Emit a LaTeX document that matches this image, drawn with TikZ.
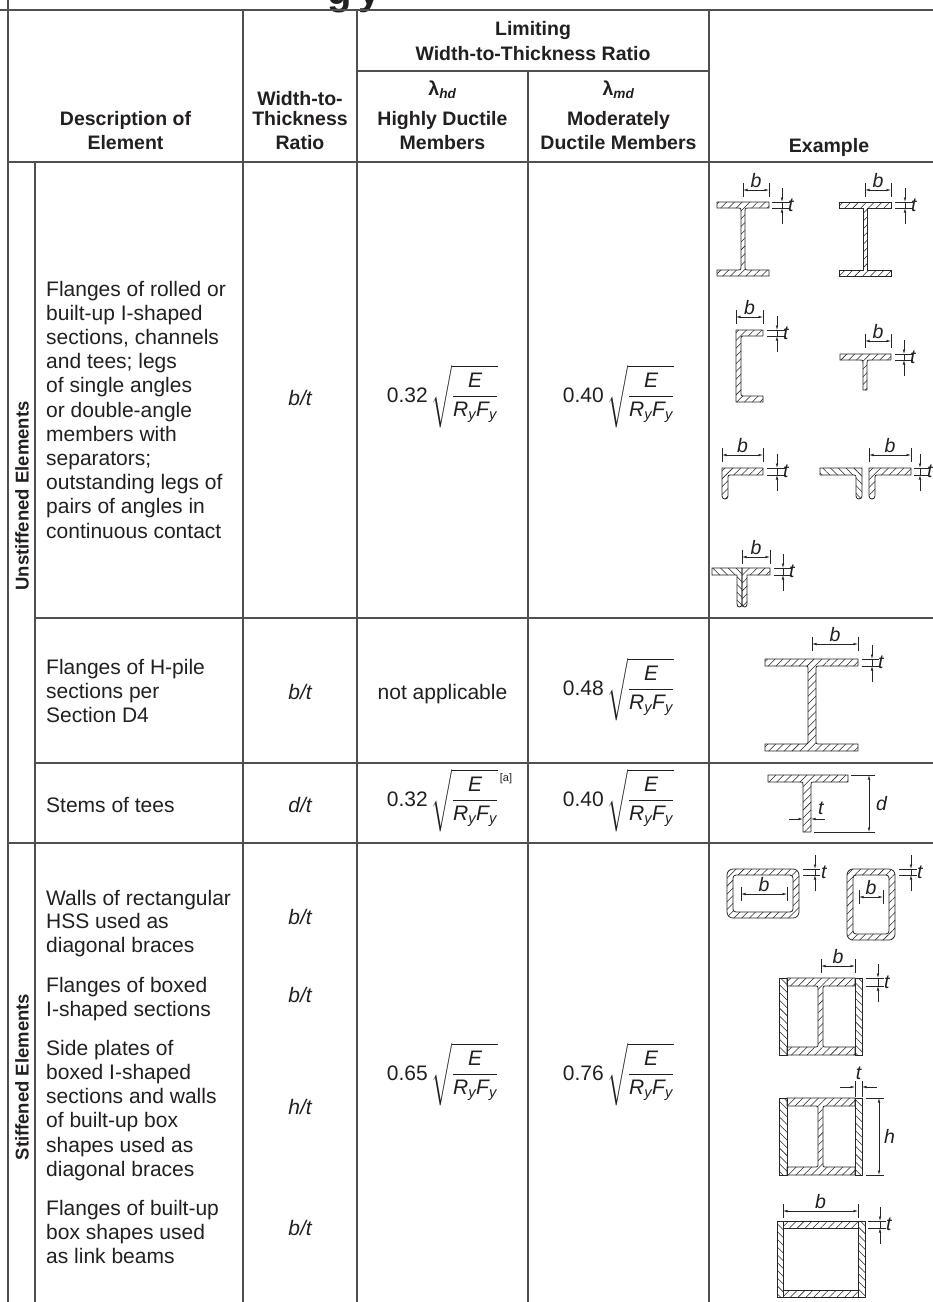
\documentclass[tikz,border=0pt]{standalone}
\usepackage{fix-cm}
\usepackage{amsmath}
\usepackage{fontspec}
\setmainfont{Liberation Sans}
\usetikzlibrary{arrows.meta,patterns.meta}
\definecolor{ink}{HTML}{231F20}
\definecolor{rulec}{HTML}{505050}
\definecolor{shapec}{HTML}{262626}
\tikzset{
  grid/.style={draw=rulec, line width=2pt},
  hdr/.style={font=\bfseries\fontsize{19.5}{23}\selectfont, text=ink, inner sep=0, anchor=base},
  body/.style={font=\fontsize{21}{23.5}\selectfont, text=ink, inner sep=0, anchor=base west},
  ratio/.style={font=\itshape\fontsize{21}{23.5}\selectfont, text=ink, inner sep=0, anchor=base},
  frm/.style={font=\fontsize{21}{23.5}\selectfont, text=ink, inner sep=0, anchor=base},
  grp/.style={font=\bfseries\fontsize{18.5}{22}\selectfont, text=ink, rotate=90, inner sep=0},
  sec/.style={draw=shapec, line width=0.8pt, pattern={Lines[angle=45,distance=5.5pt,line width=0.55pt]}, pattern color=shapec},
  secb/.style={draw=shapec, line width=0.8pt, pattern={Lines[angle=-45,distance=5.5pt,line width=0.55pt]}, pattern color=shapec},
  dimline/.style={draw=shapec, line width=0.6pt},
  dimarr/.style={dimline, {Latex[length=4.5pt,width=2.6pt]}-{Latex[length=4.5pt,width=2.6pt]}},
  onearr/.style={dimline, -{Latex[length=4.5pt,width=2.6pt]}},
  lab/.style={font=\itshape\fontsize{19.5}{19.5}\selectfont, text=ink, inner sep=0},
}
% horizontal dimension with extension lines: name, x1, x2, y, label
\newcommand\bDim[5]{%
  \draw[dimline] (#2,#4-7) -- (#2,#4+7);
  \draw[dimline] (#3,#4-7) -- (#3,#4+7);
  \draw[dimarr] (#2,#4) -- (#3,#4);
  \node[lab,anchor=base] (#1) at ({(#2+#3)/2},#4-3) {#5};
}
% thickness dimension: name, x, ytop, ybot, tick x1, tick x2
\newcommand\tDim[6]{%
  \draw[dimline] (#5,#3) -- (#6,#3);
  \draw[dimline] (#5,#4) -- (#6,#4);
  \draw[onearr] (#2,#3-14) -- (#2,#3);
  \draw[onearr] (#2,#4+16) -- (#2,#4);
  \draw[dimline] (#2,#3) -- (#2,#4);
  \node[lab,anchor=west] (#1) at (#2+6,{(#3+#4)/2}) {t};
}
\newcommand\frmE{\sqrt{\dfrac{\textit{E}}{\textit{R}_{\textit{y}}\textit{F}_{\textit{y}}}}}
\begin{document}
\begin{tikzpicture}[x=1pt,y=-1pt]
\useasboundingbox (0,0) rectangle (933,1302);
% title remnant
\node[font=\bfseries\fontsize{40}{40}\selectfont, text=ink, inner sep=0, anchor=base] (ttl) at (354,4) {g\hspace{6pt}y};
% grid
\draw[grid] (0,10) -- (933,10);
\draw[grid] (357,71) -- (709,71);
\draw[grid] (8,162) -- (933,162);
\draw[grid] (35,618) -- (933,618);
\draw[grid] (35,763) -- (933,763);
\draw[grid] (8,843) -- (933,843);
\draw[grid] (8,0) -- (8,1302);
\draw[grid] (35,162) -- (35,1302);
\draw[grid] (243,10) -- (243,1302);
\draw[grid] (357,10) -- (357,1302);
\draw[grid] (528,71) -- (528,1302);
\draw[grid] (709,10) -- (709,1302);
% header
\node[hdr] (hLim) at (533,35) {Limiting};
\node[hdr] (hWTR) at (533,60) {Width-to-Thickness Ratio};
\node[hdr] (hLhd) at (442.5,95) {λ\textsubscript{\itshape hd}};
\node[hdr] (hLmd) at (618.5,95) {λ\textsubscript{\itshape md}};
\node[hdr] (hW1) at (300,105) {Width-to-};
\node[hdr] (hW2) at (300,125) {Thickness};
\node[hdr] (hW3) at (300,149) {Ratio};
\node[hdr] (hD1) at (125.5,125) {Description of};
\node[hdr] (hD2) at (125.5,149) {Element};
\node[hdr] (hH1) at (442.5,125) {Highly Ductile};
\node[hdr] (hH2) at (442.5,149) {Members};
\node[hdr] (hM1) at (618.5,125) {Moderately};
\node[hdr] (hM2) at (618.5,149) {Ductile Members};
\node[hdr] (hEx) at (829,152) {Example};
% group labels
\node[grp] (gU) at (22,496) {Unstiffened Elements};
\node[grp] (gS) at (22,1077) {Stiffened Elements};
% row 1
\foreach \txt [count=\i] in {Flanges of rolled or, built-up I-shaped, {sections, channels}, and tees; legs, of single angles, or double-angle, members with, separators;, outstanding legs of, pairs of angles in, continuous contact}
  \node[body] (dA\i) at (46,{296+(\i-1)*24.2}) {\txt};
\node[ratio] (rA) at (300,405) {b/t};
\node[frm] (hdA) at (442.5,402) {0.32\,$\frmE$};
\node[frm] (mdA) at (618.5,402) {0.40\,$\frmE$};
% row 2
\foreach \txt [count=\i] in {Flanges of H-pile, sections per, Section D4}
  \node[body] (dB\i) at (46,{674+(\i-1)*24}) {\txt};
\node[ratio] (rB) at (300,699) {b/t};
\node[frm] (hdB) at (442.5,699) {not applicable};
\node[frm] (mdB) at (618.5,695) {0.48\,$\frmE$};
% row 3
\node[body] (dC1) at (46,812) {Stems of tees};
\node[ratio] (rC) at (300,812) {d/t};
\node[frm] (hdC) at (442.5,806) {0.32\,$\frmE$};
\node[font=\fontsize{11}{11}\selectfont, text=ink, inner sep=0] (fnA) at (506,779) {[a]};
\node[frm] (mdC) at (618.5,806) {0.40\,$\frmE$};
% row 4
\foreach \txt [count=\i] in {Walls of rectangular, HSS used as, diagonal braces}
  \node[body] (dD\i) at (46,{905+(\i-1)*23.5}) {\txt};
\foreach \txt [count=\i] in {Flanges of boxed, I-shaped sections}
  \node[body] (dE\i) at (46,{992+(\i-1)*24}) {\txt};
\foreach \txt [count=\i] in {Side plates of, boxed I-shaped, sections and walls, of built-up box, shapes used as, diagonal braces}
  \node[body] (dF\i) at (46,{1055+(\i-1)*24.3}) {\txt};
\foreach \txt [count=\i] in {Flanges of built-up, box shapes used, as link beams}
  \node[body] (dG\i) at (46,{1215+(\i-1)*24.2}) {\txt};
\node[ratio] (rD) at (300,924) {b/t};
\node[ratio] (rE) at (300,1002) {b/t};
\node[ratio] (rF) at (300,1114) {h/t};
\node[ratio] (rG) at (300,1235) {b/t};
\node[frm] (hdD) at (442.5,1080) {0.65\,$\frmE$};
\node[frm] (mdD) at (618.5,1080) {0.76\,$\frmE$};

% ===== examples =====
% rolled I
\draw[sec] (717,202) -- (769,202) -- (769,208) -- (748,208) .. controls (745,208) .. (745,211) -- (745,267) .. controls (745,270) .. (748,270) -- (769,270) -- (769,276) -- (717,276) -- (717,270) -- (738,270) .. controls (741,270) .. (741,267) -- (741,211) .. controls (741,208) .. (738,208) -- (717,208) -- cycle;
\bDim{b1}{743}{769}{190}{b}
\tDim{t1}{782}{202}{208}{772}{790}
% welded I
\draw[sec] (839,202) -- (891,202) -- (891,208) -- (867,208) -- (867,270) -- (891,270) -- (891,276) -- (839,276) -- (839,270) -- (863,270) -- (863,208) -- (839,208) -- cycle;
\bDim{b2}{865}{891}{190}{b}
\tDim{t2}{905}{202}{208}{895}{913}
% channel
\draw[sec] (736,330) -- (763,330) -- (763,336) -- (745,336) .. controls (741,336) .. (741,340) -- (741,392) .. controls (741,396) .. (745,396) -- (763,396) -- (763,402) -- (736,402) -- cycle;
\bDim{b3}{736}{763}{317}{b}
\tDim{t3}{777}{330}{336}{767}{786}
% tee
\draw[sec] (840,354) -- (891,354) -- (891,360) -- (870,360) .. controls (867,360) .. (867,363) -- (867,390) -- (863,390) -- (863,363) .. controls (863,360) .. (860,360) -- (840,360) -- cycle;
\bDim{b4}{865}{891}{341}{b}
\tDim{t4}{904}{354}{360}{895}{913}
% single angle
\draw[sec] (722,468) -- (763,468) -- (763,475) -- (732,475) .. controls (728,475) .. (728,479) -- (728,496) .. controls (728,500) and (722,500) .. (722,496) -- cycle;
\bDim{b5}{722}{763}{455}{b}
\tDim{t5}{777}{468}{475}{767}{786}
% double angle
\draw[secb] (862,468) -- (820,468) -- (820,475) -- (852,475) .. controls (856,475) .. (856,479) -- (856,496) .. controls (856,500) and (862,500) .. (862,496) -- cycle;
\draw[sec] (869,468) -- (911,468) -- (911,475) -- (879,475) .. controls (875,475) .. (875,479) -- (875,496) .. controls (875,500) and (869,500) .. (869,496) -- cycle;
\bDim{b6}{869}{911}{455}{b}
\draw[dimline] (914,468) -- (929,468);
\draw[dimline] (914,475) -- (929,475);
\draw[onearr] (920,454) -- (920,468);
\draw[onearr] (920,491) -- (920,475);
\draw[dimline] (920,468) -- (920,475);
\node[lab,anchor=west] (t6) at (927,471.5) {t};
% double-angle tee
\draw[secb] (742,568) -- (712,568) -- (712,575) -- (737,575) -- (737,604) .. controls (737,608) and (742,608) .. (742,604) -- cycle;
\draw[sec] (742,568) -- (770,568) -- (770,575) -- (747,575) -- (747,604) .. controls (747,608) and (742,608) .. (742,604) -- cycle;
\bDim{b7}{742}{770}{557}{b}
\tDim{t7}{783}{568}{575}{774}{792}
% H-pile
\draw[sec] (765,659) -- (858,659) -- (858,666) -- (820,666) .. controls (816,666) .. (816,670) -- (816,740) .. controls (816,744) .. (820,744) -- (858,744) -- (858,751) -- (765,751) -- (765,744) -- (804,744) .. controls (808,744) .. (808,740) -- (808,670) .. controls (808,666) .. (804,666) -- (765,666) -- cycle;
\bDim{b8}{812}{858}{644}{b}
\tDim{t8}{872}{659}{666}{862}{879}
% stem of tee
\draw[sec] (768,775) -- (848,775) -- (848,782) -- (814,782) .. controls (811,782) .. (811,785) -- (811,832) -- (803,832) -- (803,785) .. controls (803,782) .. (800,782) -- (768,782) -- cycle;
\draw[dimline] (851,775) -- (875,775);
\draw[dimline] (814,832) -- (875,832);
\draw[dimarr] (869,775) -- (869,832);
\node[lab,anchor=west] (d9) at (876,804) {d};
\draw[onearr] (789,819) -- (803,819);
\draw[onearr] (825,819) -- (811,819);
\node[lab,anchor=west] (t9) at (818,808) {t};
% HSS landscape
\draw[sec,even odd rule] [rounded corners=6pt] (727,869) rectangle (799,918) [rounded corners=3pt] (733,875) rectangle (793,912);
\bDim{b10}{741}{787}{894}{b}
\tDim{t10}{815}{869}{875}{803}{820}
% HSS portrait
\draw[sec,even odd rule] [rounded corners=6pt] (847,869) rectangle (895,940) [rounded corners=3pt] (853,875) rectangle (889,934);
\bDim{b11}{859}{883}{897}{b}
\tDim{t11}{911}{869}{875}{899}{917}
% boxed I (flange)
\draw[secb] (779,978) rectangle (787,1055);
\draw[secb] (855,978) rectangle (862,1055);
\draw[sec] (787,978) -- (855,978) -- (855,986) -- (827,986) .. controls (823,986) .. (823,990) -- (823,1043) .. controls (823,1047) .. (827,1047) -- (855,1047) -- (855,1055) -- (787,1055) -- (787,1047) -- (814,1047) .. controls (818,1047) .. (818,1043) -- (818,990) .. controls (818,986) .. (814,986) -- (787,986) -- cycle;
\bDim{b12}{821}{855}{966}{b}
\tDim{t12}{878}{978}{986}{866}{884}
% boxed I (side plate)
\draw[secb] (779,1098) rectangle (787,1175);
\draw[secb] (855,1098) rectangle (862,1175);
\draw[sec] (787,1098) -- (855,1098) -- (855,1106) -- (827,1106) .. controls (823,1106) .. (823,1110) -- (823,1163) .. controls (823,1167) .. (827,1167) -- (855,1167) -- (855,1175) -- (787,1175) -- (787,1167) -- (814,1167) .. controls (818,1167) .. (818,1163) -- (818,1110) .. controls (818,1106) .. (814,1106) -- (787,1106) -- cycle;
\draw[dimline] (855,1081) -- (855,1097);
\draw[dimline] (862,1081) -- (862,1097);
\draw[onearr] (840,1087) -- (855,1087);
\draw[onearr] (877,1087) -- (862,1087);
\node[lab,anchor=base] (t13) at (858.5,1079) {t};
\draw[dimline] (866,1098) -- (884,1098);
\draw[dimline] (866,1175) -- (884,1175);
\draw[dimarr] (879,1098) -- (879,1175);
\node[lab,anchor=west] (h13) at (884,1136) {h};
% built-up box
\draw[secb] (777,1221) rectangle (783,1297);
\draw[secb] (858,1221) rectangle (865,1297);
\draw[sec] (783,1221) rectangle (858,1228);
\draw[sec] (783,1290) rectangle (858,1297);
\bDim{b14}{783}{858}{1211}{b}
\tDim{t14}{880}{1221}{1228}{868}{886}
\end{tikzpicture}
\end{document}
